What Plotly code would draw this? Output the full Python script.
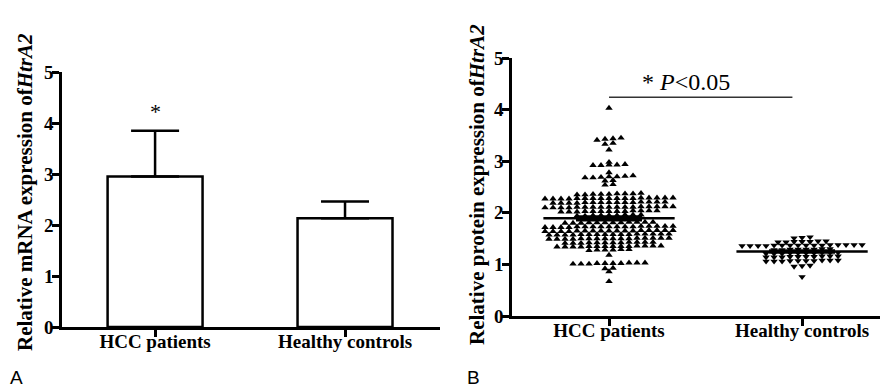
import numpy as np
import plotly.graph_objects as go

# ---------------- data ----------------
categories = ["HCC patients", "Healthy controls"]

# Panel A: relative mRNA expression (mean, upper error)
mrna_mean = [2.95, 2.13]
mrna_err = [0.90, 0.33]

# Panel B: relative protein expression, individual samples
hcc_values = [
    4.03,
    3.45, 3.43, 3.41, 3.44,
    3.35, 3.33,
    3.22,
    2.98,
    2.93, 2.92, 2.94, 2.93, 2.92,
    2.78,
    2.70, 2.68, 2.71, 2.69, 2.70, 2.72, 2.68,
    2.63, 2.62,
    2.55, 2.54,
    2.37, 2.36, 2.35, 2.37, 2.36, 2.38, 2.35, 2.36, 2.37,
    2.28, 2.29, 2.27, 2.28, 2.29, 2.28, 2.27, 2.29, 2.28, 2.28, 2.27, 2.29, 2.28, 2.27, 2.29, 2.28, 2.28,
    2.20, 2.21, 2.19, 2.20, 2.21, 2.20, 2.19, 2.21, 2.20, 2.19, 2.20, 2.21, 2.20, 2.19, 2.20,
    2.11, 2.12, 2.10, 2.11, 2.12, 2.11, 2.10, 2.12, 2.11, 2.11, 2.10, 2.12, 2.11, 2.10, 2.12, 2.11, 2.11,
    2.03, 2.04, 2.02, 2.03, 2.04, 2.03, 2.02, 2.04, 2.03, 2.02, 2.03, 2.04, 2.03,
    1.95, 1.96, 1.94, 1.95, 1.96, 1.94, 1.95, 1.96, 1.95,
    1.81, 1.82, 1.80, 1.81, 1.82, 1.80, 1.81, 1.82, 1.80, 1.81, 1.82, 1.81,
    1.73, 1.74, 1.72, 1.73, 1.74, 1.73, 1.72, 1.74, 1.73, 1.73, 1.72, 1.74, 1.73, 1.72, 1.74, 1.73, 1.73,
    1.65, 1.66, 1.64, 1.65, 1.66, 1.65, 1.64, 1.66, 1.65, 1.65, 1.64, 1.66, 1.65, 1.64, 1.66, 1.65, 1.65,
    1.58, 1.59, 1.57, 1.58, 1.59, 1.58, 1.57, 1.59, 1.58, 1.58, 1.57, 1.59, 1.58, 1.57, 1.59, 1.58,
    1.50, 1.51, 1.49, 1.50, 1.51, 1.50, 1.49, 1.51, 1.50, 1.50, 1.49, 1.51, 1.50, 1.49, 1.51, 1.50,
    1.42, 1.43, 1.41, 1.42, 1.43, 1.42, 1.41, 1.43, 1.42, 1.41, 1.42, 1.43,
    1.35, 1.36, 1.34, 1.35, 1.36, 1.35, 1.34, 1.36, 1.35, 1.34, 1.35, 1.36, 1.35, 1.34,
    1.28, 1.29, 1.27, 1.28, 1.29, 1.28,
    1.18,
    1.02, 1.03, 1.01, 1.02, 1.03, 1.02, 1.01, 1.03, 1.02, 1.01,
    0.93, 0.92,
    0.86,
    0.67,
]

healthy_values = [
    1.53, 1.51, 1.52,
    1.44, 1.45, 1.43, 1.44, 1.45, 1.43, 1.44,
    1.37, 1.38, 1.36, 1.37, 1.38, 1.37, 1.36, 1.38, 1.37, 1.37, 1.36, 1.38, 1.37, 1.36, 1.38, 1.37,
    1.29, 1.30, 1.28, 1.29, 1.30, 1.29, 1.28, 1.29,
    1.22, 1.23, 1.21, 1.22, 1.23, 1.22, 1.21, 1.23, 1.22, 1.21,
    1.15, 1.16, 1.14, 1.15, 1.16, 1.15, 1.14, 1.16, 1.15, 1.14,
    1.07, 1.08, 1.06, 1.07, 1.08, 1.07, 1.06, 1.08, 1.07, 1.06,
    0.97, 0.96, 0.98,
    0.76,
]

sig_text = "* <i>P</i>&lt;0.05"

# ---------------- layout geometry ----------------
# page body has an 8px margin, so the figure starts at (8, 8) in the window
OFF = 8
W, H = 888 - OFF, 390 - OFF


def px(x):
    return (x - OFF) / W


def py(y):
    return 1 - (y - OFF) / H


A_x = (62, 440)
A_y = (72, 327)
B_x = (512, 887)
B_y = (58, 316)
A_range = [-0.49, 1.5]
B_range = [-0.5026, 1.44]

px_per_unit_B = (B_x[1] - B_x[0]) / (B_range[1] - B_range[0])
SPACING_PX = 8.0


def swarm_offsets(values, gap=0.03):
    """Row-based dot-plot layout: values close together share a row,
    spread symmetrically around the category centre."""
    order = np.argsort(values)
    vals = np.asarray(values)[order]
    offsets = np.zeros(len(vals))
    start = 0
    for i in range(1, len(vals) + 1):
        if i == len(vals) or vals[i] - vals[i - 1] > gap:
            n = i - start
            for k in range(n):
                offsets[start + k] = (k - (n - 1) / 2) * SPACING_PX / px_per_unit_B
            start = i
    return vals, offsets


fig = go.Figure()

# ---- Panel A bars ----
fig.add_trace(go.Bar(
    x=[0, 1], y=mrna_mean, width=0.5,
    marker=dict(color="white", line=dict(color="black", width=2.5)),
    error_y=dict(type="data", symmetric=False, array=mrna_err,
                 arrayminus=[0, 0], color="black", thickness=2.5, width=24),
    xaxis="x", yaxis="y", showlegend=False,
))

# ---- Panel B scatter ----
for idx, (vals_in, sym) in enumerate([(hcc_values, "triangle-up"),
                                       (healthy_values, "triangle-down")]):
    vals, offs = swarm_offsets(vals_in)
    fig.add_trace(go.Scatter(
        x=idx + offs, y=vals, mode="markers",
        marker=dict(symbol=sym, size=6.5, color="black", line=dict(width=0)),
        xaxis="x2", yaxis="y2", showlegend=False,
    ))
    m = float(np.mean(vals_in))
    sem = float(np.std(vals_in, ddof=1) / np.sqrt(len(vals_in)))
    fig.add_trace(go.Scatter(
        x=[idx - 0.34, idx + 0.34], y=[m, m], mode="lines",
        line=dict(color="black", width=2.5),
        xaxis="x2", yaxis="y2", showlegend=False,
    ))
    fig.add_trace(go.Scatter(
        x=[idx], y=[m], mode="markers", marker=dict(size=1, color="black"),
        error_y=dict(type="data", array=[sem], color="black", thickness=2.5, width=33),
        xaxis="x2", yaxis="y2", showlegend=False,
    ))

serif = "Liberation Serif, Times New Roman, serif"
axis_common = dict(
    showline=True, linecolor="black", linewidth=2.5,
    ticks="outside", ticklen=7, tickwidth=2.5, tickcolor="black",
    showgrid=False, zeroline=False, automargin=False,
    tickfont=dict(family=serif, size=19, color="black", weight="bold"),
)

fig.update_layout(
    width=W, height=H,
    margin=dict(l=0, r=0, t=0, b=0),
    paper_bgcolor="white", plot_bgcolor="white",
    xaxis=dict(domain=[px(A_x[0]), px(A_x[1])], range=A_range,
               tickvals=[0, 1], ticktext=categories, anchor="y",
               ticklabelstandoff=-12, **axis_common),
    yaxis=dict(domain=[py(A_y[1]), py(A_y[0])], range=[0, 5],
               tickvals=[0, 1, 2, 3, 4, 5], anchor="x",
               ticklabelstandoff=-5, **axis_common),
    xaxis2=dict(domain=[px(B_x[0]), px(B_x[1])], range=B_range,
                tickvals=[0, 1], ticktext=categories, anchor="y2",
                ticklabelstandoff=-12, **axis_common),
    yaxis2=dict(domain=[py(B_y[1]), py(B_y[0])], range=[0, 5],
                tickvals=[0, 1, 2, 3, 4, 5], anchor="x2",
                ticklabelstandoff=-5, **axis_common),
    shapes=[dict(type="line", xref="x2", yref="y2", x0=0, x1=0.95, y0=4.24, y1=4.24,
                 line=dict(color="#333333", width=1.5))],
    annotations=[
        dict(text="<b>Relative mRNA expression of<i>HtrA2</i></b>", textangle=-90,
             x=px(25), y=py(192), xref="paper", yref="paper", showarrow=False,
             xanchor="center", yanchor="middle",
             font=dict(family=serif, size=21, color="black")),
        dict(text="<b>Relative protein expression of<i>HtrA2</i></b>", textangle=-90,
             x=px(477), y=py(185), xref="paper", yref="paper", showarrow=False,
             xanchor="center", yanchor="middle",
             font=dict(family=serif, size=21, color="black")),
        dict(text="*", x=0, y=4.22, xref="x", yref="y", showarrow=False,
             xanchor="center", yanchor="middle",
             font=dict(family=serif, size=22, color="black")),
        dict(text=sig_text, x=0.40, y=4.53, xref="x2", yref="y2", showarrow=False,
             xanchor="center", yanchor="middle",
             font=dict(family=serif, size=24, color="black")),
        dict(text="A", x=px(16), y=py(377), xref="paper", yref="paper", showarrow=False,
             xanchor="center", yanchor="middle",
             font=dict(family="Liberation Sans, Arial, sans-serif", size=19, color="black")),
        dict(text="B", x=px(473), y=py(377), xref="paper", yref="paper", showarrow=False,
             xanchor="center", yanchor="middle",
             font=dict(family="Liberation Sans, Arial, sans-serif", size=19, color="black")),
    ],
)

fig.write_html("out.html")
